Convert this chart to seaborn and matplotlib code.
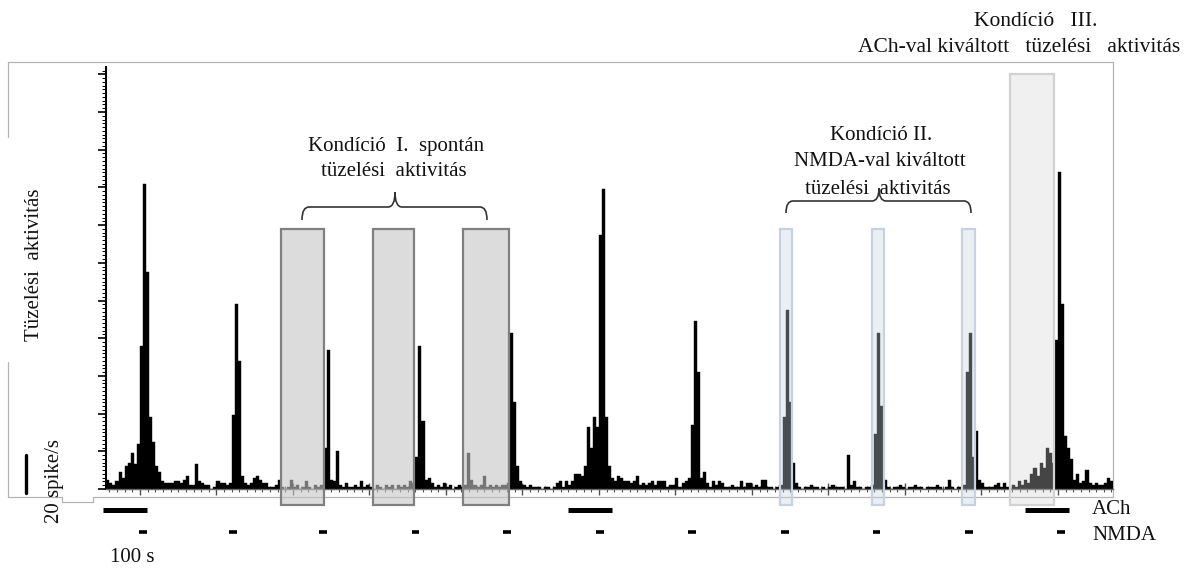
import numpy as np
import pandas as pd
import matplotlib
matplotlib.use("Agg")
import matplotlib.pyplot as plt
from matplotlib.path import Path
from matplotlib.patches import PathPatch, Rectangle
from matplotlib.lines import Line2D
from matplotlib.ticker import FixedLocator
import matplotlib.transforms as mtransforms
import seaborn as sns

# ---------------- data (spike/s per 4 s bin) ----------------
bin_width = 4      # s
t_start = -44      # s
seg_pre = [5, 3, 2, 4, 9, 6, 12, 14, 19, 13]
seg_0 = [24, 76, 162, 115, 38, 25, 12, 9, 4, 3, 3, 3, 4, 4, 3, 5, 7, 2, 2, 13, 4, 3, 2, 2, 0, 1, 4, 3, 3, 2]
seg_1 = [3, 39, 98, 68, 7, 3, 2, 3, 6, 7, 5, 3, 3, 1, 1, 2, 5, 1, 0, 1, 5, 1, 2, 0, 1, 4, 1, 0, 2, 1]
seg_2 = [2, 22, 74, 5, 4, 20, 2, 1, 3, 1, 1, 2, 1, 4, 1, 2, 1, 0, 2, 1, 0, 2, 1, 2, 0, 2, 1, 2, 1, 4]
seg_3 = [3, 17, 76, 36, 5, 6, 3, 1, 2, 1, 3, 1, 2, 0, 1, 2, 1, 2, 19, 5, 2, 1, 2, 7, 1, 2, 1, 2, 1, 2]
seg_4 = [2, 3, 83, 46, 12, 4, 2, 1, 2, 1, 1, 1, 0, 1, 1, 0, 1, 3, 4, 1, 4, 2, 4, 8, 8, 7, 12, 33, 22, 38]
seg_5 = [33, 135, 159, 38, 12, 6, 4, 7, 6, 4, 4, 3, 4, 7, 2, 3, 2, 3, 4, 2, 4, 4, 4, 1, 2, 2, 6, 1, 3, 4]
seg_6 = [6, 34, 89, 62, 6, 9, 3, 1, 4, 2, 4, 3, 1, 1, 2, 1, 1, 4, 1, 3, 3, 1, 2, 1, 5, 5, 1, 1, 0, 1]
seg_7 = [2, 38, 95, 46, 14, 3, 1, 0, 1, 1, 2, 1, 1, 0, 1, 0, 1, 2, 1, 1, 1, 0, 18, 2, 4, 1, 1, 0, 1, 1]
seg_8 = [2, 29, 83, 44, 5, 1, 0, 1, 1, 2, 1, 0, 1, 1, 2, 1, 1, 0, 1, 1, 1, 2, 1, 0, 1, 5, 1, 0, 1, 1]
seg_9 = [2, 62, 83, 17, 31, 5, 3, 1, 1, 1, 2, 3, 1, 3, 1, 0, 2, 1, 4, 2, 5, 3, 8, 11, 7, 14, 11, 22, 19, 14]
seg_10 = [79, 168, 98, 28, 22, 16, 5, 8, 3, 4, 10, 3, 2, 3, 2, 2, 3, 6, 4]

# stimulation times (s)
ach_start = [-48, 559, 1157]
ach_end = [9, 617, 1214]
nmda_start = [-1, 117, 234, 355, 475, 596, 717, 838, 958, 1079, 1199]
nmda_dur = 10

# analysed windows (s)
cond1_start = [185, 304, 422]
cond1_end = [240, 358, 483]
cond2_start = [837, 957, 1075]
cond2_end = [853, 973, 1092]
cond3_start = [1137]
cond3_end = [1195]

rates = np.array(seg_pre + seg_0 + seg_1 + seg_2 + seg_3 + seg_4 + seg_5 +
                 seg_6 + seg_7 + seg_8 + seg_9 + seg_10, dtype=float)
n_bins = len(rates)
edges = t_start + bin_width * np.arange(n_bins + 1)
centers = edges[:-1] + bin_width / 2
t_end = edges[-1]
df = pd.DataFrame({"t": centers, "rate": rates})

# ---------------- figure ----------------
sns.set_theme(style="white")
plt.rcParams["font.family"] = ["Liberation Serif", "DejaVu Serif"]

W, H = 1186, 571
fig = plt.figure(figsize=(W / 100, H / 100), dpi=100)


def P(x, y):
    return (x / W, 1 - y / H)


ymin, ymax = -9.5, 224
ax = fig.add_axes([106.3 / W, 0.11226, (1113 - 106.3) / W, 0.7708])
ax.set_facecolor("none")

sns.barplot(data=df, x="t", y="rate", native_scale=True, width=1.0,
            color="black", saturation=1, edgecolor="black", linewidth=0.3,
            errorbar=None, ax=ax, zorder=2)

ax.set_xlim(t_start, t_end)
ax.set_ylim(ymin, ymax)
ax.set_xlabel("")
ax.set_ylabel("")

for s in ["top", "right"]:
    ax.spines[s].set_visible(False)
ax.spines["left"].set_bounds(0, ymax)
ax.spines["left"].set_linewidth(1.5)
ax.spines["left"].set_color("black")
ax.spines["bottom"].set_position(("data", 0))
ax.spines["bottom"].set_color("#666666")
ax.spines["bottom"].set_linewidth(1.0)

ax.xaxis.set_major_locator(FixedLocator(np.arange(0, t_end, 100)))
ax.xaxis.set_minor_locator(FixedLocator(np.arange(-40, t_end, 10)))
ax.yaxis.set_major_locator(FixedLocator(np.arange(0, 221, 20)))
ax.yaxis.set_minor_locator(FixedLocator(np.arange(0, 223, 2)))
ax.tick_params(axis="x", which="major", direction="inout", length=8, width=1.0,
               color="#505050", labelbottom=False, bottom=True)
ax.tick_params(axis="x", which="minor", direction="inout", length=4, width=0.8,
               color="#505050", bottom=True)
ax.tick_params(axis="y", which="major", direction="out", length=6, width=1.2,
               color="black", labelleft=False, left=True)
ax.tick_params(axis="y", which="minor", direction="out", length=3, width=0.7,
               color="black", left=True)

# analysed windows
box_bottom = -8.5
for s, e in zip(cond1_start, cond1_end):
    ax.add_patch(Rectangle((s, box_bottom), e - s, 138 - box_bottom,
                           facecolor=(0.771, 0.771, 0.771, 0.6), edgecolor="#808080",
                           linewidth=1.6, zorder=4, clip_on=False))
for s, e in zip(cond2_start, cond2_end):
    ax.add_patch(Rectangle((s, box_bottom), e - s, 138 - box_bottom,
                           facecolor=(0.78, 0.83, 0.885, 0.36), edgecolor="#C6D2E0",
                           linewidth=1.6, zorder=4, clip_on=False))
for s, e in zip(cond3_start, cond3_end):
    ax.add_patch(Rectangle((s, box_bottom), e - s, 220 - box_bottom,
                           facecolor=(0.83, 0.83, 0.83, 0.33), edgecolor="#D2D2D2",
                           linewidth=1.6, zorder=4, clip_on=False))

# stimulation markers
ax.hlines([-11.4] * len(ach_start), ach_start, ach_end, color="black",
          linewidth=3.6, clip_on=False)
ax.hlines([-22.6] * len(nmda_start), nmda_start,
          [s + nmda_dur for s in nmda_start], color="black", linewidth=2.6,
          clip_on=False)

# scale bar (20 spike/s)
bt = mtransforms.blended_transform_factory(fig.transFigure, ax.transData)
fig.add_artist(Line2D([26 / W, 26 / W], [-2, 18], transform=bt, color="black",
                      linewidth=2.4))

# grey frame
fc = "#b4b4b4"
frame_pts = [(8, 137), (8, 62), (1113, 62), (1113, 497), (93, 497), (93, 502),
             (62, 502), (62, 497), (8, 497), (8, 362)]
fx = [P(x, y)[0] for x, y in frame_pts]
fy = [P(x, y)[1] for x, y in frame_pts]
fig.add_artist(Line2D(fx, fy, transform=fig.transFigure, color=fc,
                      linewidth=0.9, zorder=0))


# braces
def brace(x0, x1, xc, yh, ye, yc, r=7):
    verts = [P(x0, ye), P(x0, yh), P(x0 + r, yh), P(xc - r, yh), P(xc, yh), P(xc, yc),
             P(xc, yh), P(xc + r, yh), P(x1 - r, yh), P(x1, yh), P(x1, ye)]
    codes = [Path.MOVETO, Path.CURVE3, Path.CURVE3, Path.LINETO, Path.CURVE3, Path.CURVE3,
             Path.CURVE3, Path.CURVE3, Path.LINETO, Path.CURVE3, Path.CURVE3]
    fig.add_artist(PathPatch(Path(verts, codes), transform=fig.transFigure,
                             fill=False, edgecolor="#333333", linewidth=1.2))


brace(302, 487, 395, 207, 220, 192)
brace(786, 971, 879, 201, 213, 188)

fs = 15
tc = "#111111"
texts = [
    (396, 146, "Kondíció  I.  spontán", fs),
    (394, 172, "tüzelési  aktivitás", fs),
    (881, 135, "Kondíció II.", fs),
    (880, 162, "NMDA-val kiváltott", fs),
    (878, 189, "tüzelési  aktivitás", fs),
    (1036, 22, "Kondíció   III.", 15.5),
    (1019, 47, "ACh-val kiváltott   tüzelési   aktivitás", 15.5),
]
for x, y, s, f in texts:
    fig.text(*P(x, y), s, ha="center", va="center", fontsize=f, color=tc)

fig.text(*P(35, 265), "Tüzelési  aktivitás", rotation=90, ha="center", va="center",
         fontsize=fs, color=tc)
fig.text(*P(54, 481), "20 spike/s", rotation=90, ha="center", va="center",
         fontsize=fs, color=tc)
fig.text(*P(110, 558), "100 s", ha="left", va="center", fontsize=fs, color=tc)
fig.text(*P(1092, 509), "ACh", ha="left", va="center", fontsize=fs, color=tc)
fig.text(*P(1092, 535), "NMDA", ha="left", va="center", fontsize=fs, color=tc)

fig.savefig("out.png", dpi=100)
